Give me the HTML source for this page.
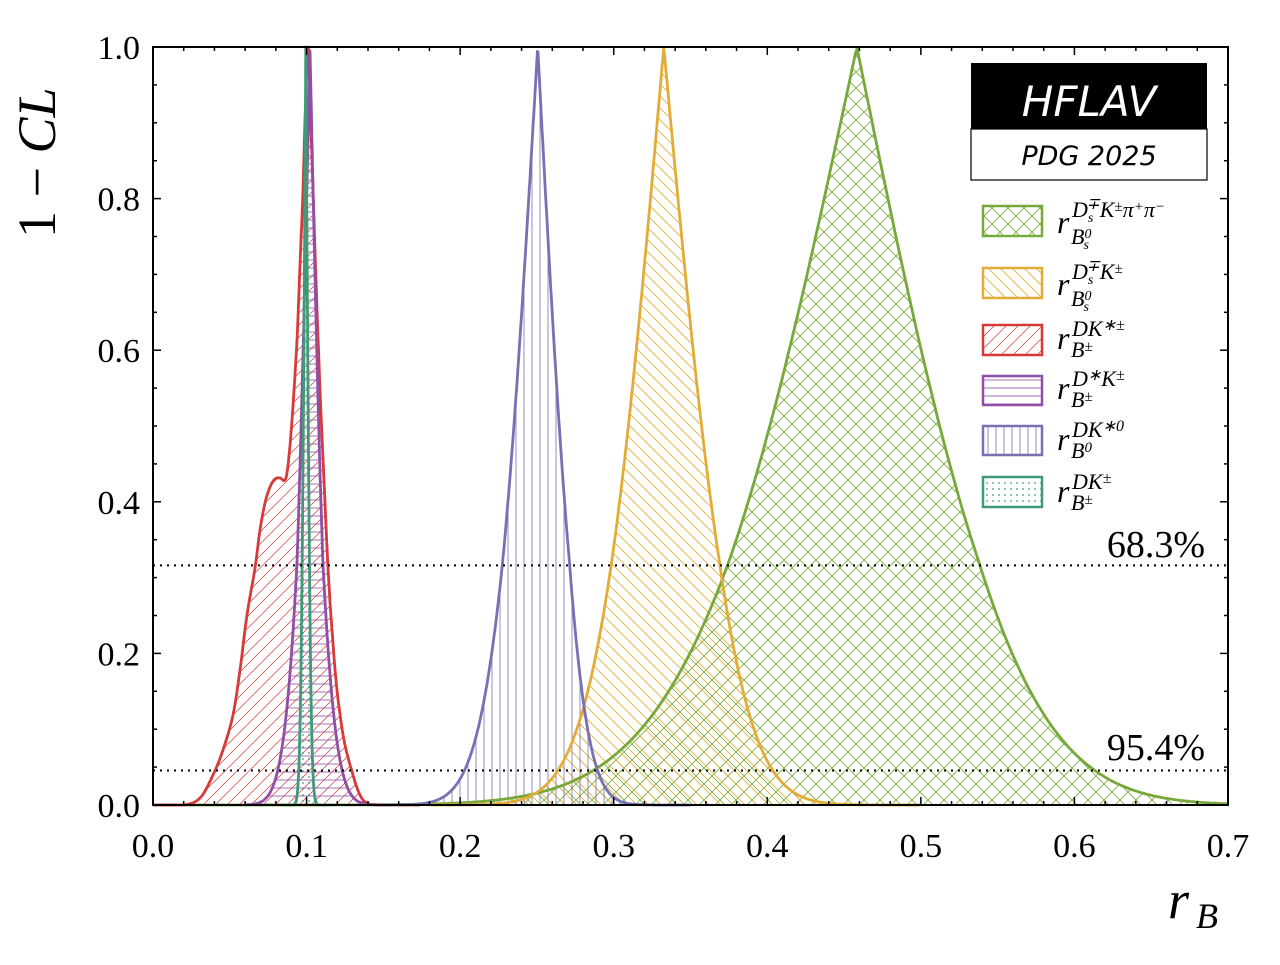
<!DOCTYPE html>
<html><head><meta charset="utf-8"><style>
body{margin:0;background:#fff;}
svg text{font-family:"Liberation Serif",serif;}
</style></head><body>
<svg id="s" width="1280" height="960" xmlns="http://www.w3.org/2000/svg">
<defs>
<pattern id="pg" width="16" height="16" patternUnits="userSpaceOnUse"><path d="M0 0L16 16M16 0L0 16" stroke="#77a83a" stroke-width="0.8" fill="none"/></pattern>
<pattern id="po" width="12" height="12" patternUnits="userSpaceOnUse"><path d="M-3 9L3 15M0 0L12 12M9 -3L15 3" stroke="#e2ac36" stroke-width="0.8" fill="none"/></pattern>
<pattern id="pr" width="12" height="12" patternUnits="userSpaceOnUse"><path d="M-3 3L3 -3M0 12L12 0M9 15L15 9" stroke="#d83a3a" stroke-width="0.7" fill="none"/></pattern>
<pattern id="pp" width="10" height="8" patternUnits="userSpaceOnUse"><path d="M0 4H10" stroke="#8e4fa5" stroke-width="0.8" fill="none"/></pattern>
<pattern id="pb" width="8" height="10" patternUnits="userSpaceOnUse"><path d="M4 0V10" stroke="#7771b3" stroke-width="0.8" fill="none"/></pattern>
<pattern id="pt" width="6" height="6" patternUnits="userSpaceOnUse"><circle cx="3" cy="3" r="0.9" fill="#3f9a78"/></pattern>
</defs>
<g id="curves"></g>
<g fill="none" stroke="#000" stroke-width="2" stroke-dasharray="2,5">
<line x1="153" y1="565.4" x2="1228" y2="565.4"/>
<line x1="153" y1="770.5" x2="1228" y2="770.5"/>
</g>
<text x="1205" y="557" font-size="38" text-anchor="end">68.3%</text>
<text x="1205" y="760" font-size="38" text-anchor="end">95.4%</text>
<g id="ticks" stroke="#000" stroke-width="1.5"></g>
<rect x="153" y="47" width="1075" height="758" fill="none" stroke="#000" stroke-width="2"/>
<g id="lab" font-size="34"></g>
<text x="55" y="238" font-size="54" transform="rotate(-90 55 238)">1 − <tspan font-style="italic">CL</tspan></text>
<text x="1168" y="918" font-size="54" font-style="italic">r</text><text x="1196" y="928" font-size="36" font-style="italic">B</text>
<rect x="971" y="63" width="236" height="66" fill="#000"/>
<rect x="971" y="129" width="236" height="51" fill="#fff" stroke="#000" stroke-width="1.2"/>
<text x="1089" y="116" font-size="42" fill="#fff" text-anchor="middle" font-style="italic" style="font-family:'DejaVu Sans',sans-serif">HFLAV</text>
<text x="1089" y="165" font-size="27" text-anchor="middle" font-style="italic" style="font-family:'DejaVu Sans',sans-serif">PDG 2025</text>
<g stroke-width="2.5">
<rect x="983" y="206" width="59" height="30" fill="url(#pg)" stroke="#77a83a"/>
<rect x="983" y="268" width="59" height="30" fill="url(#po)" stroke="#e2ac36"/>
<rect x="983" y="325" width="59" height="30" fill="url(#pr)" stroke="#d83a3a"/>
<rect x="983" y="376" width="59" height="29" fill="url(#pp)" stroke="#8e4fa5"/>
<rect x="983" y="426" width="59" height="29" fill="url(#pb)" stroke="#7771b3"/>
<rect x="983" y="477" width="59" height="30" fill="url(#pt)" stroke="#3f9a78"/>
</g>
<g font-style="italic">
<text x="1057" y="233" font-size="32">r</text><text x="1072" y="217" font-size="22">D<tspan font-size="14" dy="5">s</tspan><tspan font-size="16" dy="-13" dx="-7">∓</tspan><tspan dy="8">K</tspan><tspan dy="-6" font-size="15">±</tspan><tspan dy="6">π</tspan><tspan dy="-6" font-size="15">+</tspan><tspan dy="6">π</tspan><tspan dy="-6" font-size="15">−</tspan></text><text x="1071" y="244" font-size="22">B<tspan font-size="14" dy="-6">0</tspan><tspan font-size="14" dy="11" dx="-8">s</tspan></text>
<text x="1057" y="295" font-size="32">r</text><text x="1072" y="279" font-size="22">D<tspan font-size="14" dy="5">s</tspan><tspan font-size="16" dy="-13" dx="-7">∓</tspan><tspan dy="8">K</tspan><tspan dy="-6" font-size="15">±</tspan></text><text x="1071" y="306" font-size="22">B<tspan font-size="14" dy="-6">0</tspan><tspan font-size="14" dy="11" dx="-8">s</tspan></text>
<text x="1057" y="349" font-size="32">r</text><text x="1072" y="336" font-size="22">DK<tspan dy="-6" font-size="16">∗±</tspan></text><text x="1071" y="357" font-size="22">B<tspan font-size="15" dy="-6">±</tspan></text>
<text x="1057" y="399" font-size="32">r</text><text x="1072" y="386" font-size="22">D<tspan dy="-6" font-size="16">∗</tspan><tspan dy="6">K</tspan><tspan dy="-6" font-size="16">±</tspan></text><text x="1071" y="407" font-size="22">B<tspan font-size="15" dy="-6">±</tspan></text>
<text x="1057" y="450" font-size="32">r</text><text x="1072" y="437" font-size="22">DK<tspan dy="-6" font-size="16">∗0</tspan></text><text x="1071" y="458" font-size="22">B<tspan font-size="15" dy="-6">0</tspan></text>
<text x="1057" y="502" font-size="32">r</text><text x="1072" y="489" font-size="22">DK<tspan dy="-6" font-size="16">±</tspan></text><text x="1071" y="510" font-size="22">B<tspan font-size="15" dy="-6">±</tspan></text>
</g>
</svg>
<script>
var X=function(v){return 153+v*1535.714;},Y=function(c){return 805-c*758;};
function erfc(x){var t=1/(1+0.5*x);return t*Math.exp(-x*x-1.26551223+t*(1.00002368+t*(0.37409196+t*(0.09678418+t*(-0.18628806+t*(0.27886807+t*(-1.13520398+t*(1.48851587+t*(-0.82215223+t*0.17087277)))))))));}
function zf(d,d1,d2){ if(d<=d1) return d/d1; return 1+(d-d1)/(d2-d1);}
function curve(mu,l1,l2,r1,r2,a,b){var p=[];for(var i=0;i<=600;i++){var x=a+(b-a)*i/600;var d=x-mu;var z=d<0?zf(-d,l1,l2):zf(d,r1,r2);var c=erfc(z/Math.SQRT2);p.push([X(x),Y(c)]);}return p;}
function smooth(pts){var out=[];for(var i=0;i<pts.length-1;i++){var p0=pts[Math.max(i-1,0)],p1=pts[i],p2=pts[i+1],p3=pts[Math.min(i+2,pts.length-1)];for(var k=0;k<10;k++){var t=k/10,t2=t*t,t3=t2*t;var f=function(a,b,c,d){return 0.5*((2*b)+(-a+c)*t+(2*a-5*b+4*c-d)*t2+(-a+3*b-3*c+d)*t3);};out.push([f(p0[0],p1[0],p2[0],p3[0]),Math.min(805,f(p0[1],p1[1],p2[1],p3[1]))]);}}out.push(pts[pts.length-1]);return out;}
var S=[];
S.push([curve(0.4583,0.0840,0.1717,0.0800,0.155,0.0,0.7),"#77a83a","pg"]);
S.push([curve(0.3326,0.0342,0.069,0.0365,0.071,0.18,0.5),"#e2ac36","po"]);
var rp=[[153,805],[183,805],[200,798],[213,775],[223,750],[233,715],[240,670],[247,615],[255,568],[260,530],[265,503],[270,487],[275,479],[280,478],[285,480],[288,465],[292,420],[297,340],[300,265],[303,190],[305,120],[308,47],[310,100],[313,190],[316,280],[320,390],[324,480],[328,568],[332,630],[337,690],[344,740],[353,775],[360,795],[367,803],[380,805],[420,805]];
S.push([smooth(rp),"#d83a3a","pr"]);
S.push([curve(0.1022,0.0085,0.021,0.0085,0.021,0.06,0.15),"#8e4fa5","pp"]);
S.push([curve(0.2505,0.023,0.0477,0.0208,0.039,0.15,0.35),"#7771b3","pb"]);
S.push([curve(0.0995,0.0024,0.0046,0.0024,0.0046,0.085,0.115),"#3f9a78","pt"]);
var g=document.getElementById('curves'),h='';
S.forEach(function(s){var d='M'+s[0].map(function(q){return q[0].toFixed(1)+' '+q[1].toFixed(1)}).join('L');
h+='<path d="'+d+'Z" fill="url(#'+s[2]+')" stroke="none"/>';});
S.forEach(function(s){var d='M'+s[0].map(function(q){return q[0].toFixed(1)+' '+q[1].toFixed(1)}).join('L');
h+='<path d="'+d+'" fill="none" stroke="'+s[1]+'" stroke-width="2.8" stroke-linejoin="round"/>';});
g.innerHTML=h;
var t='',L='';
for(var i=0;i<=35;i++){var x=X(i*0.02),m=(i%5==0)?8:4;t+='<line x1="'+x+'" y1="805" x2="'+x+'" y2="'+(805-m)+'"/><line x1="'+x+'" y1="47" x2="'+x+'" y2="'+(47+m)+'"/>';}
for(var i=0;i<=20;i++){var y=Y(i*0.05),m=(i%4==0)?8:4;t+='<line x1="153" y1="'+y+'" x2="'+(153+m)+'" y2="'+y+'"/><line x1="1228" y1="'+y+'" x2="'+(1228-m)+'" y2="'+y+'"/>';}
for(var i=0;i<=7;i++)L+='<text x="'+X(i*0.1)+'" y="857" text-anchor="middle">'+(i/10).toFixed(1)+'</text>';
for(var i=0;i<=5;i++)L+='<text x="140" y="'+(Y(i*0.2)+12)+'" text-anchor="end">'+(i*0.2).toFixed(1)+'</text>';
document.getElementById('ticks').innerHTML=t;document.getElementById('lab').innerHTML=L;
</script>
</body></html>
